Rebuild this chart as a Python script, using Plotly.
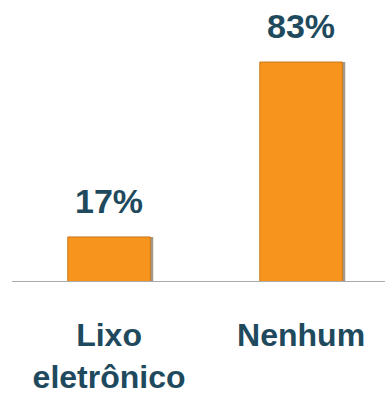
import plotly.graph_objects as go

categories = ["Lixo<br>eletrônico", "Nenhum"]
values = [17, 83]
labels = ["17%", "83%"]

bar_color = "#f7941d"
text_color = "#1f4a5e"
font_family = "Liberation Sans, Arial, sans-serif"

xs = [0, 1]

fig = go.Figure()
# soft shadow behind bars
fig.add_trace(go.Bar(
    x=xs, y=values, width=0.43, offset=-0.2,
    marker=dict(color="rgba(90,70,40,0.55)", line=dict(width=0)),
    hoverinfo="skip", showlegend=False,
))
fig.add_trace(go.Bar(
    x=xs, y=values, width=0.43, offset=-0.215,
    marker=dict(color=bar_color, line=dict(color="#c9781a", width=1)),
    showlegend=False,
))

for x, v, t in zip(xs, values, labels):
    fig.add_annotation(
        x=x, y=v, text=t, showarrow=False, xref="x", yref="y",
        yanchor="bottom", yshift=15,
        font=dict(family=font_family, size=34, color=text_color, weight="bold"),
    )

fig.add_shape(type="line", xref="x", yref="y", x0=-0.505, x1=1.45, y0=0, y1=0,
              line=dict(color="#aaaaaa", width=2), layer="above")

fig.update_layout(
    width=385, height=394,
    margin=dict(l=0, r=0, t=0, b=112),
    paper_bgcolor="white", plot_bgcolor="white",
    barmode="overlay",
    xaxis=dict(
        range=[-0.568, 1.437], tickmode="array", tickvals=xs, ticktext=categories,
        showgrid=False, zeroline=False, showline=False,
        ticks="outside", ticklen=25, tickcolor="rgba(0,0,0,0)",
        tickfont=dict(family=font_family, size=32, color=text_color, weight="bold"),
        fixedrange=True,
    ),
    yaxis=dict(range=[0, 106.4], visible=False, fixedrange=True),
)

fig.write_html("out.html", config={"displayModeBar": False},
               post_script="document.body.style.margin='0';document.body.style.overflow='hidden';")
